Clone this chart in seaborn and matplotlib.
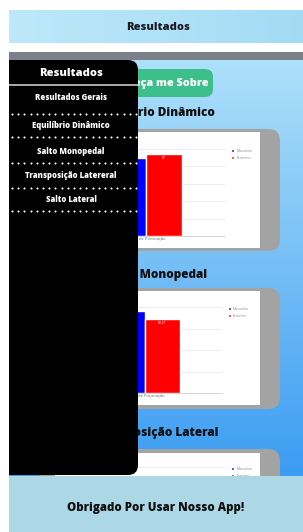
import numpy as np
import pandas as pd

import matplotlib
matplotlib.use("Agg")
import matplotlib.pyplot as plt
from matplotlib.patches import FancyBboxPatch, Rectangle
import seaborn as sns

# ==========================================
# DATA
# ==========================================

header_title = "Resultados"
menu_title = "Resultados"
menu_items = [
    "Resultados Gerais",
    "Equilíbrio Dinâmico",
    "Salto Monopedal",
    "Transposição Latereral",
    "Salto Lateral",
]
button_text = "Conheça me Sobre"
footer_text = "Obrigado Por Usar Nosso App!"

chart_titles = ["Equilíbrio Dinâmico", "Salto Monopedal", "Transposição Lateral"]
groups = ["Masculino", "Feminino"]
category = "Média de Pontuação"

equilibrio = [83, 87]
monopedal = [97.8, 88.27]
transposicao = [62, 58]

# ==========================================
# FIGURE
# ==========================================

W, H = 303, 532
sns.set_theme(style="white")
plt.rcParams["font.family"] = ["Open Sans", "DejaVu Sans"]
HEAVY = "heavy"

fig = plt.figure(figsize=(W / 100, H / 100), dpi=100)


def px_axes(x0, y0, x1, y1, z):
    ax = fig.add_axes([x0 / W, 1 - y1 / H, (x1 - x0) / W, (y1 - y0) / H])
    ax.set_zorder(z)
    return ax


bg = px_axes(0, 0, W, H, 0)
bg.axis("off")

# blue gradient content area
top_col = np.array([0.68, 0.88, 0.98])
bot_col = np.array([0.23, 0.61, 0.95])
t = np.linspace(0, 1, 200)[:, None, None]
grad = top_col * (1 - t) + bot_col * t
grad = np.repeat(grad, 2, axis=1)
bg.imshow(grad, extent=(9, W, 480, 60), origin="upper", aspect="auto")

# header
hgrad = np.linspace(np.array([0.74, 0.91, 0.98]), np.array([0.64, 0.86, 0.96]), 100)[None, :, :]
bg.imshow(np.repeat(hgrad, 2, axis=0), extent=(9, W, 43, 10), origin="upper", aspect="auto")
bg.set_xlim(0, W)
bg.set_ylim(H, 0)
bg.add_patch(Rectangle((9, 52), W - 9, 8, color="#7c8189", lw=0))
bg.text(158, 27, header_title, ha="center", va="center", fontsize=8,
        fontweight=HEAVY, color="#1c1c28")

# green button
bg.add_patch(FancyBboxPatch((99, 69), 114, 28, boxstyle="round,pad=0,rounding_size=8",
                            color="#3dbf8c", lw=0))
bg.text(157, 83.5, button_text, ha="center", va="center", fontsize=7.8,
        fontweight=HEAVY, color="white")

# chart cards + titles
cards = [
    dict(title_y=113, card=(40, 129, 280, 251), white=(55, 132, 260, 248),
         plot=(67, 149, 225, 236), ymax=92.3, n=5, data=equilibrio, fmt="%g", shown=True),
    dict(title_y=275, card=(40, 288, 280, 409), white=(55, 291, 260, 405),
         plot=(67, 307, 222, 393), ymax=102.6, n=4, data=monopedal, fmt="%.2f", shown=True),
    dict(title_y=433, card=(40, 449, 280, 570), white=(55, 453, 260, 566),
         plot=(67, 467, 225, 553), ymax=100, n=5, data=transposicao, fmt="%g", shown=False),
]

for title, c in zip(chart_titles, cards):
    bg.text(156, c["title_y"], title, ha="center", va="center", fontsize=8.5,
            fontweight=HEAVY, color="#111111")
    x0, y0, x1, y1 = c["card"]
    bg.add_patch(FancyBboxPatch((x0, y0), x1 - x0, y1 - y0,
                                boxstyle="round,pad=0,rounding_size=12",
                                color="#a3a3a3", lw=0))
    x0, y0, x1, y1 = c["white"]
    bg.add_patch(Rectangle((x0, y0), x1 - x0, y1 - y0, color="white", lw=0))

# ==========================================
# BAR CHARTS
# ==========================================

palette = {"Masculino": "#0000ff", "Feminino": "#ff0000"}

for c in cards:
    ax = px_axes(*c["plot"], 1)
    ax.patch.set_alpha(0)
    df = pd.DataFrame({
        "categoria": [category] * len(groups),
        "sexo": groups,
        "valor": c["data"],
    })
    sns.barplot(data=df, x="categoria", y="valor", hue="sexo", palette=palette,
                width=0.456, saturation=1, ax=ax)
    ax.set_xlim(-0.5, 0.5)
    ax.set_ylim(0, c["ymax"])
    ax.set_yticks(np.linspace(0, c["ymax"], c["n"] + 1))
    ax.set_yticklabels([])
    ax.yaxis.grid(True, color="#e6e6e6", lw=0.5)
    ax.set_xlabel("")
    ax.set_ylabel("")
    ax.tick_params(axis="x", labelsize=3, colors="#666666", length=0, pad=1)
    ax.tick_params(axis="y", length=0)
    for s in ["left", "right", "top"]:
        ax.spines[s].set_visible(False)
    ax.spines["bottom"].set_color("#cfcfcf")
    ax.spines["bottom"].set_linewidth(0.6)
    sns.move_legend(ax, "upper left", bbox_to_anchor=(1.02, 1.04), frameon=False,
                    title=None, fontsize=2.4, handlelength=0.9, handleheight=0.9,
                    handletextpad=0.6, labelspacing=0.9, labelcolor="#888888")
    if c["shown"]:
        ax.bar_label(ax.containers[1], fmt=c["fmt"], padding=-4, color="white", fontsize=2.4)
    else:
        # lower part of this card is hidden under the footer
        ax.set_xticklabels([])

# ==========================================
# OVERLAY (sidebar + footer)
# ==========================================

ov = px_axes(0, 0, W, H, 2)
ov.set_xlim(0, W)
ov.set_ylim(H, 0)
ov.axis("off")
ov.patch.set_alpha(0)

ov.add_patch(FancyBboxPatch((9, 60), 129, 415, boxstyle="round,pad=0,rounding_size=10",
                            color="black", lw=0))
ov.add_patch(Rectangle((9, 60), 20, 415, color="black", lw=0))
ov.plot([9, 138], [84.5, 84.5], color="#c9c9c9", lw=1.2, solid_capstyle="butt")
ov.text(71, 73, menu_title, ha="center", va="center", fontsize=8,
        fontweight=HEAVY, color="white")

item_y = [98, 126, 152, 176, 200]
dots_y = [114, 137, 163, 188, 211]
dots_x = np.arange(12, 137, 6.2)
for label, yi, yd in zip(menu_items, item_y, dots_y):
    ov.text(71, yi, label, ha="center", va="center", fontsize=5.6,
            fontweight=HEAVY, color="white")
    ov.plot(dots_x, [yd] * len(dots_x), ls="none",
            marker="o", ms=1.5, color="white", mew=0)

ov.add_patch(Rectangle((9, 476), W - 9, H - 476, color="#acd8e6", lw=0))
ov.text(156, 508, footer_text, ha="center", va="center", fontsize=8.3,
        fontweight=HEAVY, color="#111111")

# left/top white margins
ov.add_patch(Rectangle((0, 0), 9, H, color="white", lw=0))
ov.add_patch(Rectangle((0, 0), W, 10, color="white", lw=0))

plt.savefig("out.png", dpi=100)
plt.close()
